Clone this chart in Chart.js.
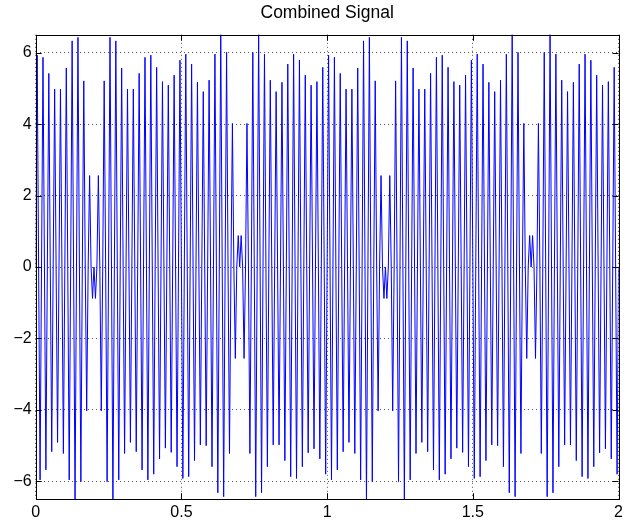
<!DOCTYPE html>
<html>
<head>
<meta charset="utf-8">
<title>Combined Signal</title>
<script src="https://cdn.jsdelivr.net/npm/chart.js@4.4.1/dist/chart.umd.min.js"></script>
<style>
  html, body { margin: 0; padding: 0; background: #fff; }
  canvas { display: block; }
</style>
</head>
<body>
<canvas id="signal" width="627" height="525"></canvas>
<script>
// sample spacing of the plotted signal (seconds)
const timeStep = 0.005;

// signal samples (every other sample sits on zero)
const signal = [
  0,5.93,0,-5.96,0,5.87,0,-5.68,0,5.42,0,-5.17,0,4.98,0,-4.91,0,4.98,0,-5.22,
  0,5.57,0,-5.96,0,6.33,0,-6.58,0,6.43,0,-6.01,0,5.21,0,-4.03,0,2.56,0,-0.88,
  0,-0.88,0,2.56,0,-4.03,0,5.21,0,-6.01,0,6.43,0,-6.58,0,6.33,0,-5.96,0,5.57,
  0,-5.22,0,4.98,0,-4.91,0,4.98,0,-5.17,0,5.42,0,-5.68,0,5.87,0,-5.96,0,5.93,
  0,-5.80,0,5.59,0,-5.37,0,5.19,0,-5.07,0,5.09,0,-5.19,0,5.37,0,-5.59,0,5.79,
  0,-5.92,0,5.96,0,-5.87,0,5.68,0,-5.42,0,5.17,0,-4.98,0,4.91,0,-5.00,0,5.23,
  0,-5.59,0,5.96,0,-6.32,0,6.58,0,-6.43,0,6.01,0,-5.22,0,4.02,0,-2.56,0,0.88,
  0,0.88,0,-2.56,0,4.02,0,-5.22,0,6.01,0,-6.43,0,6.58,0,-6.32,0,5.96,0,-5.59,
  0,5.23,0,-4.98,0,4.91,0,-4.98,0,5.17,0,-5.42,0,5.68,0,-5.87,0,5.96,0,-5.92,
  0,5.79,0,-5.59,0,5.37,0,-5.20,0,5.09,0,-5.09,0,5.19,0,-5.37,0,5.59,0,-5.80,
  0,5.93,0,-5.96,0,5.87,0,-5.68,0,5.42,0,-5.17,0,4.98,0,-4.91,0,4.98,0,-5.22,
  0,5.57,0,-5.96,0,6.33,0,-6.58,0,6.43,0,-6.01,0,5.21,0,-4.03,0,2.56,0,-0.88,
  0,-0.88,0,2.56,0,-4.03,0,5.21,0,-6.01,0,6.43,0,-6.58,0,6.33,0,-5.96,0,5.57,
  0,-5.22,0,4.98,0,-4.91,0,4.98,0,-5.17,0,5.42,0,-5.68,0,5.87,0,-5.96,0,5.93,
  0,-5.80,0,5.59,0,-5.37,0,5.19,0,-5.07,0,5.09,0,-5.19,0,5.37,0,-5.59,0,5.79,
  0,-5.92,0,5.96,0,-5.87,0,5.68,0,-5.42,0,5.17,0,-4.98,0,4.91,0,-5.00,0,5.23,
  0,-5.59,0,5.96,0,-6.32,0,6.58,0,-6.43,0,6.01,0,-5.22,0,4.02,0,-2.56,0,0.88,
  0,0.88,0,-2.56,0,4.02,0,-5.22,0,6.01,0,-6.43,0,6.58,0,-6.32,0,5.96,0,-5.59,
  0,5.23,0,-4.98,0,4.91,0,-4.98,0,5.17,0,-5.42,0,5.68,0,-5.87,0,5.96,0,-5.92,
  0,5.79,0,-5.59,0,5.37,0,-5.20,0,5.09,0,-5.09,0,5.19,0,-5.37,0,5.59,0,-5.80,
  0
];

// tick labels
const xTicks = [0, 0.5, 1, 1.5, 2];
const yTicks = [-6, -4, -2, 0, 2, 4, 6];

const times = signal.map((v, k) => +(k * timeStep).toFixed(3));

const fontFamily = '"Liberation Sans", Arial, Helvetica, sans-serif';

const fmt = v => (v < 0 ? '\u2212' + Math.abs(v) : String(v));

// matlab style box with ticks pointing inwards on all four sides,
// title centred over the axes rather than the whole canvas
const boxPlugin = {
  id: 'box',
  afterLayout(chart) {
    const t = chart.titleBlock;
    if (t) {
      t.left = chart.chartArea.left;
      t.right = chart.chartArea.right;
    }
  },
  afterDraw(chart) {
    const {ctx, chartArea: a, scales: {x, y}} = chart;
    const len = 6;
    ctx.save();
    ctx.strokeStyle = '#000';
    ctx.lineWidth = 1;
    ctx.beginPath();
    xTicks.forEach(v => {
      const px = Math.round(x.getPixelForValue(v)) + 0.5;
      ctx.moveTo(px, a.bottom); ctx.lineTo(px, a.bottom - len);
      ctx.moveTo(px, a.top); ctx.lineTo(px, a.top + len);
    });
    yTicks.forEach(v => {
      const py = Math.round(y.getPixelForValue(v)) + 0.5;
      ctx.moveTo(a.left, py); ctx.lineTo(a.left + len, py);
      ctx.moveTo(a.right, py); ctx.lineTo(a.right - len, py);
    });
    ctx.stroke();
    ctx.strokeRect(Math.round(a.left) + 0.5, Math.round(a.top) + 0.5,
      Math.round(a.right - a.left), Math.round(a.bottom - a.top));
    ctx.restore();
  }
};

new Chart(document.getElementById('signal'), {
  type: 'line',
  data: {
    datasets: [{
      data: signal.map((v, k) => ({ x: times[k], y: v })),
      borderColor: '#0000ff',
      borderWidth: 1,
      pointRadius: 0,
      tension: 0,
      fill: false
    }]
  },
  options: {
    responsive: false,
    animation: false,
    events: [],
    layout: { padding: { left: 0, right: 4, top: 0, bottom: 0 } },
    plugins: {
      legend: { display: false },
      tooltip: { enabled: false },
      title: {
        display: true,
        text: 'Combined Signal',
        color: '#000',
        font: { family: fontFamily, size: 17.5, weight: 'normal' },
        padding: { top: 3, bottom: 10.8 }
      }
    },
    scales: {
      x: {
        type: 'linear',
        min: 0,
        max: 2,
        afterBuildTicks: s => { s.ticks = xTicks.map(v => ({ value: v })); },
        afterFit: s => { s.height = 25.8; },
        grid: { color: '#555', lineWidth: 1, drawTicks: false },
        border: { display: false, dash: [1, 3] },
        ticks: {
          color: '#000',
          padding: 4,
          maxRotation: 0,
          font: { family: fontFamily, size: 16 },
          callback: v => fmt(v)
        }
      },
      y: {
        min: -6.5,
        max: 6.5,
        afterBuildTicks: s => { s.ticks = yTicks.map(v => ({ value: v })); },
        afterFit: s => { s.width = 35.7; },
        grid: { color: '#555', lineWidth: 1, drawTicks: false },
        border: { display: false, dash: [1, 3] },
        ticks: {
          color: '#000',
          padding: 4,
          font: { family: fontFamily, size: 16 },
          callback: v => fmt(v)
        }
      }
    }
  },
  plugins: [boxPlugin]
});
</script>
</body>
</html>
